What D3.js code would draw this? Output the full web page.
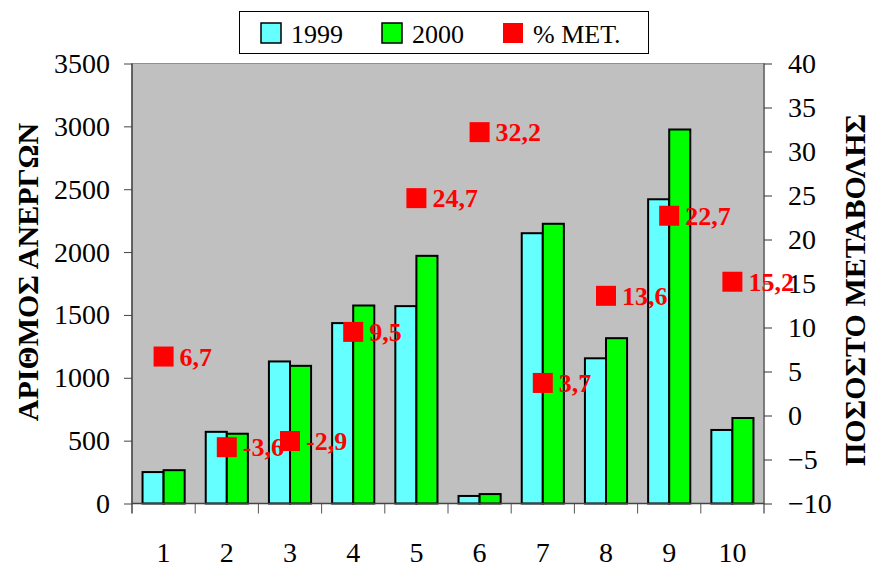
<!DOCTYPE html>
<html>
<head>
<meta charset="utf-8">
<script src="https://cdn.jsdelivr.net/npm/d3@7"></script>
<style>
  html, body { margin: 0; padding: 0; background: #ffffff; }
  svg { display: block; }
</style>
</head>
<body>
<svg id="chart" width="870" height="566"></svg>
<script>
const categories = ["1", "2", "3", "4", "5", "6", "7", "8", "9", "10"];
const values1999 = [250, 570, 1130, 1435, 1570, 60, 2150, 1155, 2420, 585];
const values2000 = [265, 555, 1095, 1575, 1970, 75, 2225, 1315, 2975, 680];
const pctChange = [6.7, -3.6, -2.9, 9.5, 24.7, 32.2, 3.7, 13.6, 22.7, 15.2];
const leftTicks = [0, 500, 1000, 1500, 2000, 2500, 3000, 3500];
const rightTicks = [-10, -5, 0, 5, 10, 15, 20, 25, 30, 35, 40];
const seriesNames = ["1999", "2000", "% ΜΕΤ."];
const leftTitle = "ΑΡΙΘΜΟΣ ΑΝΕΡΓΩΝ";
const rightTitle = "ΠΟΣΟΣΤΟ ΜΕΤΑΒΟΛΗΣ";

const colors = { c1999: "#66ffff", c2000: "#00ff00", pct: "#ff0000" };
const serif = "'Liberation Serif', 'Times New Roman', serif";

const svg = d3.select("#chart");
const plot = { left: 132, right: 764, top: 63.5, bottom: 503.5 };

const x = d3.scaleBand().domain(categories).range([plot.left, plot.right]).padding(0);
const yL = d3.scaleLinear().domain([0, 3500]).range([plot.bottom, plot.top]);
const yR = d3.scaleLinear().domain([-10, 40]).range([plot.bottom, plot.top]);

// plot background
svg.append("rect")
  .attr("x", plot.left).attr("y", plot.top)
  .attr("width", plot.right - plot.left).attr("height", plot.bottom - plot.top)
  .attr("fill", "#c0c0c0").attr("stroke", "#909090").attr("stroke-width", 1);

const bw = x.bandwidth();
const barW = bw / 3;

const g = svg.append("g");
categories.forEach((c, i) => {
  g.append("rect")
    .attr("x", x(c) + bw / 6).attr("y", yL(values1999[i]))
    .attr("width", barW).attr("height", yL(0) - yL(values1999[i]))
    .attr("fill", colors.c1999).attr("stroke", "#000").attr("stroke-width", 2);
  g.append("rect")
    .attr("x", x(c) + bw / 2).attr("y", yL(values2000[i]))
    .attr("width", barW).attr("height", yL(0) - yL(values2000[i]))
    .attr("fill", colors.c2000).attr("stroke", "#000").attr("stroke-width", 2);
});

// Left axis
const axL = svg.append("g").attr("transform", `translate(${plot.left},0)`)
  .call(d3.axisLeft(yL).tickValues(leftTicks).tickSize(8).tickPadding(14).tickFormat(d3.format("d")));
axL.select(".domain").attr("stroke", "#444").attr("stroke-width", 1.5).attr("d", `M-0,${plot.top}V${plot.bottom + 10}`);
axL.selectAll(".tick line").attr("stroke", "#444");
axL.selectAll("text").attr("font-family", serif).attr("font-size", 28).attr("fill", "#000");

// Right axis
const axR = svg.append("g").attr("transform", `translate(${plot.right},0)`)
  .call(d3.axisRight(yR).tickValues(rightTicks).tickSize(8).tickPadding(16).tickFormat(d3.format("d")));
axR.select(".domain").attr("stroke", "#666").attr("stroke-width", 1.5).attr("d", `M0,${plot.top}V${plot.bottom + 10}`);
axR.selectAll(".tick line").attr("stroke", "#333");
axR.selectAll("text").attr("font-family", serif).attr("font-size", 28).attr("fill", "#000");

// Bottom axis: ticks at category boundaries
const axB = svg.append("g").attr("transform", `translate(0,${plot.bottom})`);
axB.append("line").attr("x1", plot.left).attr("x2", plot.right).attr("y1", 0).attr("y2", 0)
  .attr("stroke", "#444").attr("stroke-width", 1.5);
categories.forEach((c, i) => {
  if (i > 0) {
    axB.append("line").attr("x1", x(c)).attr("x2", x(c)).attr("y1", 0).attr("y2", 10)
      .attr("stroke", "#555").attr("stroke-width", 1);
  }
  axB.append("text").attr("x", x(c) + bw / 2).attr("y", 58)
    .attr("text-anchor", "middle").attr("font-family", serif).attr("font-size", 28)
    .attr("fill", "#000").text(c);
});

// Percentage markers and labels
const ms = 20;
categories.forEach((c, i) => {
  const cx = x(c) + bw / 2;
  const cy = yR(pctChange[i]);
  svg.append("rect").attr("x", cx - ms / 2).attr("y", cy - ms / 2)
    .attr("width", ms).attr("height", ms).attr("fill", colors.pct);
  svg.append("text").attr("x", cx + ms / 2 + 6).attr("y", cy + 9)
    .attr("font-family", serif).attr("font-weight", "bold").attr("font-size", 26)
    .attr("fill", colors.pct).text(String(pctChange[i]).replace(".", ","));
});

// Axis titles
svg.append("text").attr("transform", `translate(38,272) rotate(-90)`)
  .attr("text-anchor", "middle").attr("font-family", serif).attr("font-weight", "bold")
  .attr("font-size", 30).attr("fill", "#000").text(leftTitle);
svg.append("text").attr("transform", `translate(865,290) rotate(-90)`)
  .attr("text-anchor", "middle").attr("font-family", serif).attr("font-weight", "bold")
  .attr("font-size", 30).attr("fill", "#000").text(rightTitle);

// Legend
const lg = svg.append("g");
lg.append("rect").attr("x", 239.5).attr("y", 11.5).attr("width", 409).attr("height", 42)
  .attr("fill", "#fff").attr("stroke", "#000").attr("stroke-width", 1);
const legendItems = [
  { name: seriesNames[0], color: colors.c1999, sx: 261, stroke: true },
  { name: seriesNames[1], color: colors.c2000, sx: 382, stroke: true },
  { name: seriesNames[2], color: colors.pct, sx: 503, stroke: false }
];
legendItems.forEach(it => {
  lg.append("rect").attr("x", it.sx).attr("y", 23).attr("width", 20).attr("height", 20)
    .attr("fill", it.color).attr("stroke", it.stroke ? "#000" : "none").attr("stroke-width", 1.5);
  lg.append("text").attr("x", it.sx + 30).attr("y", 43)
    .attr("font-family", serif).attr("font-size", 26).attr("fill", "#000").text(it.name);
});
</script>
</body>
</html>
